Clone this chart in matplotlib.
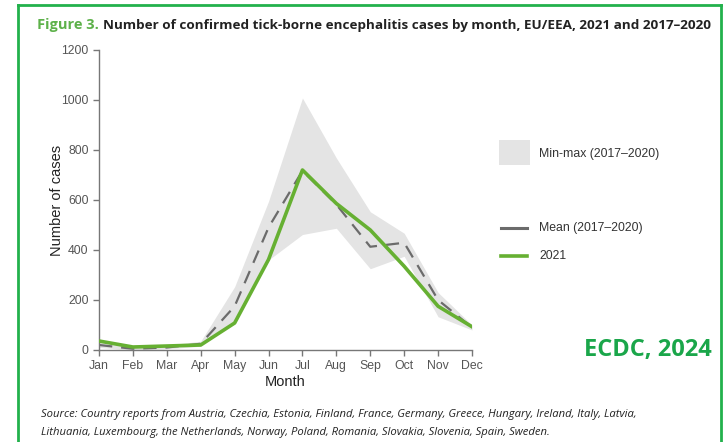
import matplotlib
matplotlib.use("Agg")
import matplotlib.pyplot as plt
from matplotlib.lines import Line2D
from matplotlib.patches import Rectangle

months = ["Jan", "Feb", "Mar", "Apr", "May", "Jun", "Jul", "Aug", "Sep", "Oct", "Nov", "Dec"]
cases_2021 = [36, 12, 16, 20, 108, 362, 720, 586, 480, 335, 175, 93]
mean_17_20 = [20, 5, 10, 25, 175, 490, 717, 582, 413, 429, 200, 90]
max_17_20 = [40, 15, 20, 35, 253, 595, 1008, 768, 553, 467, 230, 100]
min_17_20 = [10, 0, 5, 15, 115, 360, 462, 487, 325, 375, 133, 80]
yticks = [0, 200, 400, 600, 800, 1000, 1200]

W, H = 726, 442
fig = plt.figure(figsize=(W / 100, H / 100), dpi=100)
fig.patch.set_facecolor("white")

def fx(px):
    return px / W

def fy(py):
    return 1 - py / H

ax = fig.add_axes([fx(99), fy(350), fx(472) - fx(99), fy(50) - fy(350)])
x = list(range(len(months)))
ax.fill_between(x, min_17_20, max_17_20, color="#e4e4e4", linewidth=0, zorder=1)
ax.plot(x, mean_17_20, color="#6b6b6b", lw=1.6, dashes=(6, 4), zorder=2)
ax.plot(x, cases_2021, color="#66b032", lw=2.6, zorder=3)

ax.set_xlim(0, 11)
ax.set_ylim(0, 1200)
ax.set_xticks(x)
ax.set_xticklabels(months)
ax.set_yticks(yticks)
for s in ["top", "right"]:
    ax.spines[s].set_visible(False)
for s in ["left", "bottom"]:
    ax.spines[s].set_color("#777777")
    ax.spines[s].set_linewidth(1.0)
ax.tick_params(axis="both", colors="#777777", length=4, width=1.0, labelsize=8.8,
               labelcolor="#555555", direction="out")
ax.tick_params(axis="x", pad=3)
ax.set_xlabel("Month", fontsize=10.5, color="#222222", labelpad=2)
ax.set_ylabel("Number of cases", fontsize=10.5, color="#222222")
ax.yaxis.set_label_coords(-0.094, 0.5)
for lab in ax.get_xticklabels() + ax.get_yticklabels():
    lab.set_family("Liberation Sans")
ax.xaxis.label.set_family("Liberation Sans")
ax.yaxis.label.set_family("Liberation Sans")

# Legend (manual, figure coordinates)
fig.patches.append(Rectangle((fx(499), fy(165)), fx(530) - fx(499), fy(140) - fy(165),
                             transform=fig.transFigure, facecolor="#e4e4e4", edgecolor="none"))
fig.text(fx(539), fy(154), "Min-max (2017–2020)", fontsize=8.8, color="#333333",
         va="center", ha="left", family="Liberation Sans")
fig.lines.append(Line2D([fx(501), fx(527)], [fy(228), fy(228)], transform=fig.transFigure,
                        color="#6b6b6b", lw=2.2))
fig.text(fx(539), fy(228), "Mean (2017–2020)", fontsize=8.8, color="#333333",
         va="center", ha="left", family="Liberation Sans")
fig.lines.append(Line2D([fx(501), fx(527)], [fy(256), fy(256)], transform=fig.transFigure,
                        color="#66b032", lw=2.6))
fig.text(fx(539), fy(256), "2021", fontsize=8.8, color="#333333",
         va="center", ha="left", family="Liberation Sans")

# Title
t1 = fig.text(fx(37), fy(25), "Figure 3.", fontsize=10.5, color="#5db14a", weight="bold",
              va="center", ha="left", family="Open Sans")
fig.canvas.draw()
bb = t1.get_window_extent()
t2 = fig.text(bb.x1 / W + fx(4), fy(25),
              "Number of confirmed tick-borne encephalitis cases by month, EU/EEA, 2021 and 2017–2020",
              fontsize=10.5, color="#222222", weight="bold", va="center", ha="left",
              family="Open Sans")
fig.canvas.draw()
bb2 = t2.get_window_extent()
target = 710 - (bb.x1 + 4)
t2.set_fontsize(10.5 * target / bb2.width)

# Watermark
fig.text(fx(712), fy(350), "ECDC, 2024", fontsize=17, color="#1aa64a", weight="bold",
         va="center", ha="right", family="Open Sans")

# Source
fig.text(fx(41), fy(414),
         "Source: Country reports from Austria, Czechia, Estonia, Finland, France, Germany, Greece, Hungary, Ireland, Italy, Latvia,",
         fontsize=8.1, style="italic", color="#222222", va="center", ha="left", family="Open Sans")
fig.text(fx(41), fy(433),
         "Lithuania, Luxembourg, the Netherlands, Norway, Poland, Romania, Slovakia, Slovenia, Spain, Sweden.",
         fontsize=8.1, style="italic", color="#222222", va="center", ha="left", family="Open Sans")

# Green frame
border = "#22b14c"
fig.lines.append(Line2D([fx(18), fx(18)], [fy(5), -0.05], transform=fig.transFigure, color=border, lw=2))
fig.lines.append(Line2D([fx(721), fx(721)], [fy(5), -0.05], transform=fig.transFigure, color=border, lw=2))
fig.lines.append(Line2D([fx(18), fx(721)], [fy(5), fy(5)], transform=fig.transFigure, color=border, lw=2))

fig.savefig("out.png", dpi=100)
